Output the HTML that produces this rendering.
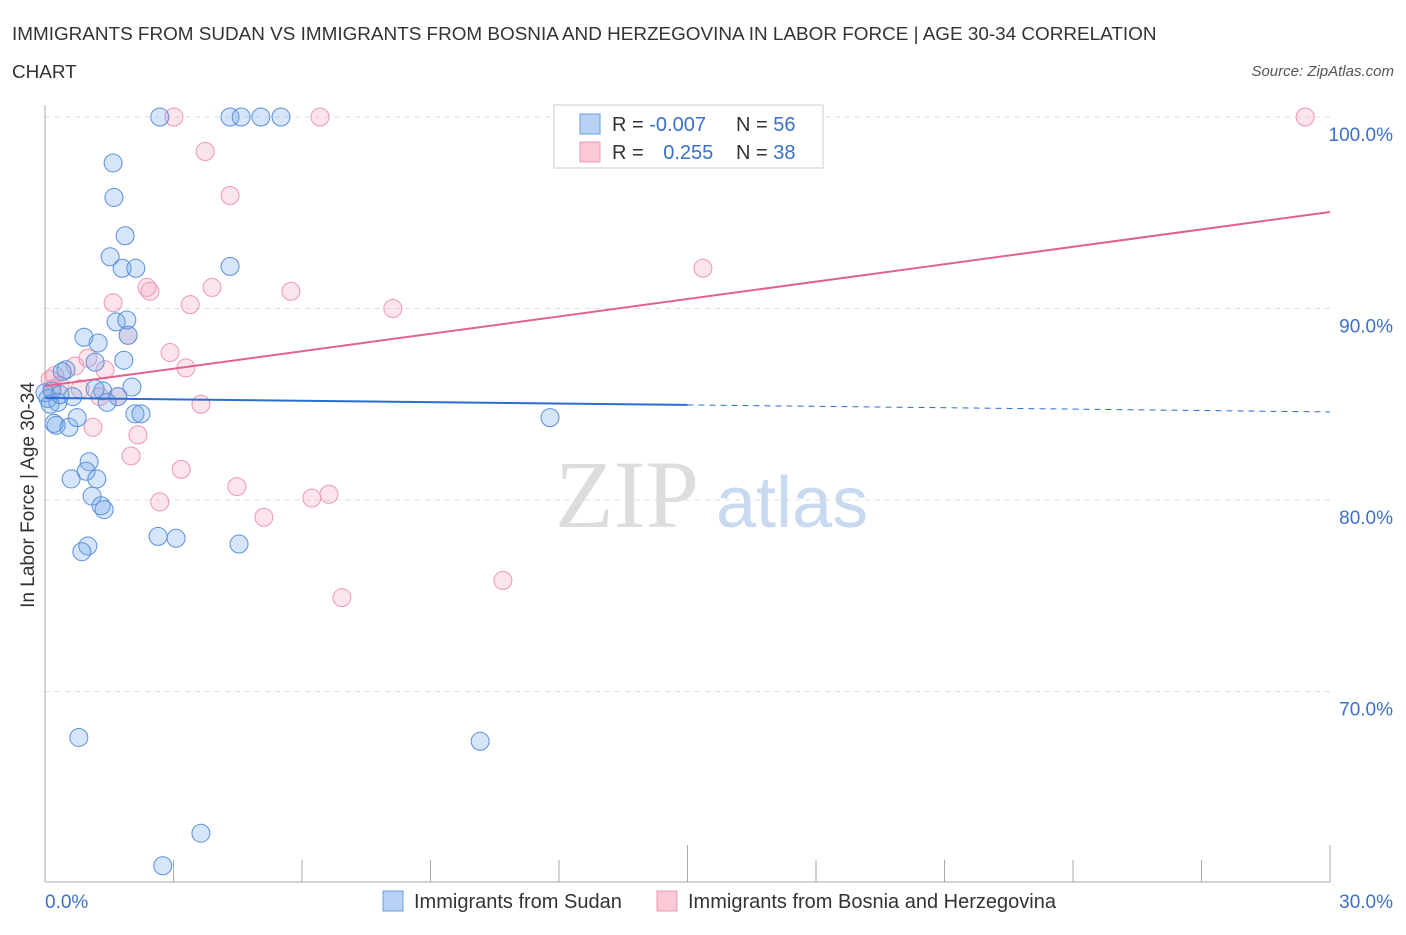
<!DOCTYPE html>
<html><head><meta charset="utf-8"><style>
body{margin:0;background:#fff;font-family:"Liberation Sans",sans-serif}
</style></head><body>
<svg id="c" width="1406" height="930" xmlns="http://www.w3.org/2000/svg" font-family="Liberation Sans, sans-serif">
<text x="12" y="40" font-size="18.9" fill="#333">IMMIGRANTS FROM SUDAN VS IMMIGRANTS FROM BOSNIA AND HERZEGOVINA IN LABOR FORCE | AGE 30-34 CORRELATION</text>
<text x="12" y="78" font-size="18.9" fill="#333">CHART</text>
<text x="1394" y="76" font-size="15" fill="#555" font-style="italic" text-anchor="end">Source: ZipAtlas.com</text>
<text x="555" y="527" font-size="96" fill="#ddd" font-family="Liberation Serif, serif">ZIP</text>
<text x="716" y="527" font-size="72" fill="#c8d9f0">atlas</text>
<g id="grid"></g>
<g id="marks"></g>
<g>
<rect x="554" y="105" width="269" height="63" fill="#fff" stroke="#ccc"/>
<rect x="580" y="114" width="20" height="20" fill="#b8d2f5" stroke="#6a9ee0"/>
<rect x="580" y="142" width="20" height="20" fill="#fbc8d6" stroke="#ee9ab5"/>
<text x="612" y="131" font-size="20" fill="#333">R = <tspan fill="#3a70c8">-0.007</tspan></text>
<text x="736" y="131" font-size="20" fill="#333">N = <tspan fill="#3a70c8">56</tspan></text>
<text x="612" y="159" font-size="20" fill="#333">R = <tspan fill="#3a70c8" dx="14">0.255</tspan></text>
<text x="736" y="159" font-size="20" fill="#333">N = <tspan fill="#3a70c8">38</tspan></text>
</g>
<text x="34" y="495" font-size="19" fill="#333" transform="rotate(-90 34 495)" text-anchor="middle">In Labor Force | Age 30-34</text>
<text x="45" y="908" font-size="19" fill="#3a70c8">0.0%</text>
<text x="1393" y="908" font-size="19" fill="#3a70c8" text-anchor="end">30.0%</text>
<g>
<rect x="383" y="891" width="20" height="20" fill="#b8d2f5" stroke="#6a9ee0"/>
<text x="414" y="908" font-size="20" fill="#333">Immigrants from Sudan</text>
<rect x="657" y="891" width="20" height="20" fill="#fbc8d6" stroke="#ee9ab5"/>
<text x="688" y="908" font-size="20" fill="#333">Immigrants from Bosnia and Herzegovina</text>
</g>
</svg>
<script>
const yTicks=[100,90,80,70];
const yTickLabels=["100.0%","90.0%","80.0%","70.0%"];
const sudanX=[2.68,4.32,4.58,5.04,5.51,1.59,1.61,1.87,1.52,1.80,2.12,4.32,1.66,1.91,0.91,1.24,1.94,1.17,1.84,0.49,0.40,2.03,1.35,1.70,1.45,0.65,0.16,0.07,0.30,0.26,0.21,0.56,0.75,2.10,2.24,11.79,1.03,0.96,0.61,1.21,1.10,1.31,1.38,2.64,3.06,4.53,1.00,0.86,0.79,10.16,3.64,2.75,0.0,0.12,0.35,1.17];
const sudanY=[100,100,100,100,100,97.6,95.8,93.8,92.7,92.1,92.1,92.2,89.3,89.4,88.5,88.2,88.6,87.2,87.3,86.8,86.7,85.9,85.7,85.4,85.1,85.4,85.7,85.3,85.1,83.9,84.0,83.8,84.3,84.5,84.5,84.3,82.0,81.5,81.1,81.1,80.2,79.7,79.5,78.1,78.0,77.7,77.6,77.3,67.6,67.4,62.6,60.9,85.6,85.0,85.5,85.8];
const bosniaX=[3.01,6.42,29.42,3.74,4.32,2.38,2.45,3.90,5.74,1.59,3.39,8.12,15.36,1.94,2.92,1.00,0.70,1.40,3.29,0.35,0.82,0.12,0.23,1.28,1.70,3.64,1.12,2.17,2.01,3.18,4.48,2.68,6.23,6.63,5.11,6.93,10.69,0.16];
const bosniaY=[100,100,100,98.2,95.9,91.1,90.9,91.1,90.9,90.3,90.2,90.0,92.1,88.6,87.7,87.4,87.0,86.8,86.9,86.0,85.8,86.3,86.5,85.4,85.4,85.0,83.8,83.4,82.3,81.6,80.7,79.9,80.1,80.3,79.1,74.9,75.8,85.8];
const sudanTrend=[85.33,84.6];
const bosniaTrend=[85.95,95.04];
const NS="http://www.w3.org/2000/svg";
const X=v=>45+v/30*1285;
const Y=v=>117+(100-v)*19.15;
function mk(t,a,p){const e=document.createElementNS(NS,t);for(const k in a)e.setAttribute(k,a[k]);p.appendChild(e);return e;}
const grid=document.getElementById('grid'),marks=document.getElementById('marks');
yTicks.forEach((t,i)=>{
 const l=mk('line',{x1:45,x2:1330,y1:Y(t),y2:Y(t),stroke:'#ddd','stroke-dasharray':'5,5'},grid);
 
 
 const tx=mk('text',{x:1393,y:Y(t)+24,'font-size':19,fill:'#3a70c8','text-anchor':'end'},grid);
 tx.textContent=yTickLabels[i];
 
 
});
const ax=mk('line',{x1:45,x2:45,y1:105,y2:882,stroke:'#aaa'},grid);


const bx=mk('line',{x1:45,x2:1330,y1:882,y2:882,stroke:'#aaa'},grid);


for(let k=1;k<=10;k++){
 const xv=k*3;
 const t=mk('line',{x1:X(xv),x2:X(xv),y1:(k==5||k==10)?845:860,y2:882,stroke:'#aaa'},grid);
 
 
}
function pts(xs,ys,fill,stroke,name){
 xs.forEach((x,i)=>{
  const c=mk('circle',{cx:X(x),cy:Y(ys[i]),r:9,fill:fill,stroke:stroke,'stroke-width':1},marks);
  
  
 });
}
pts(bosniaX,bosniaY,'rgba(245,165,190,0.3)','#ec98b3','bosnia-point');
pts(sudanX,sudanY,'rgba(120,170,235,0.3)','#5a90dc','sudan-point');
const sy=v=>sudanTrend[0]+(sudanTrend[1]-sudanTrend[0])*v/30;
const l1=mk('line',{x1:X(0),y1:Y(sy(0)),x2:X(15),y2:Y(sy(15)),stroke:'#2a6fd0','stroke-width':2},marks);


const l2=mk('line',{x1:X(15),y1:Y(sy(15)),x2:X(30),y2:Y(sy(30)),stroke:'#2a6fd0','stroke-width':1,'stroke-dasharray':'6,5'},marks);


const l3=mk('line',{x1:X(0),y1:Y(bosniaTrend[0]),x2:X(30),y2:Y(bosniaTrend[1]),stroke:'#e2628e','stroke-width':2},marks);


</script>
</body></html>
